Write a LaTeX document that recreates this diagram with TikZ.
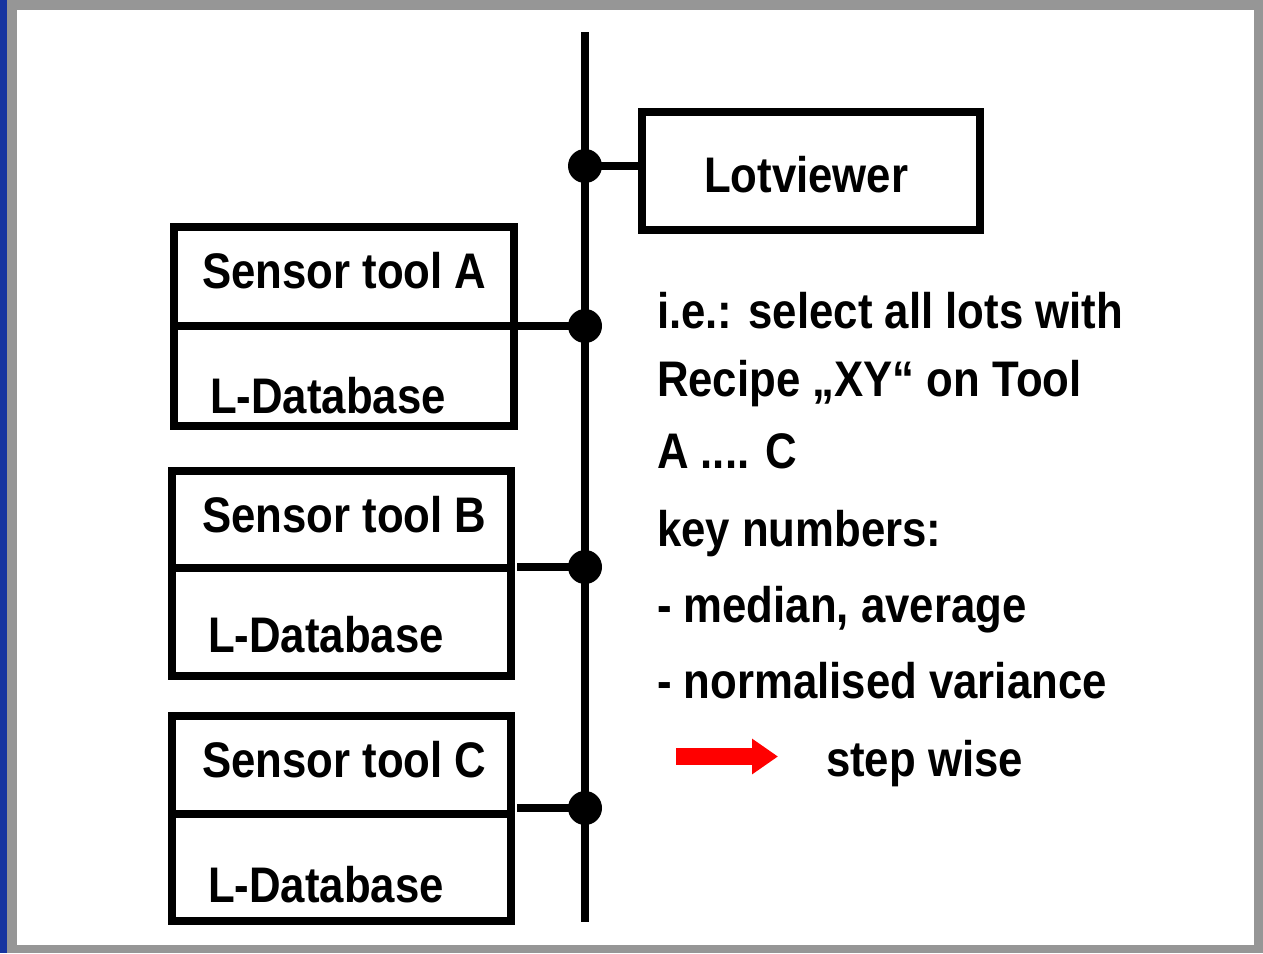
\documentclass[tikz,border=0pt]{standalone}
\usepackage{fontspec}
\setmainfont{Liberation Sans}[FakeStretch=0.875]
\usetikzlibrary{positioning, arrows.meta}

\definecolor{framegray}{RGB}{150,150,150}
\definecolor{slideblue}{RGB}{22,52,160}

\begin{document}
\begin{tikzpicture}[x=1pt, y=-1pt, line width=8pt,
    half/.style={draw, rectangle, minimum width=340pt, outer sep=0pt, inner sep=0pt},
    txt/.style={anchor=base west, inner sep=0pt, font=\fontsize{50}{60}\selectfont\bfseries},
    dot/.style={circle, fill, minimum size=34pt, inner sep=0pt}]
    \useasboundingbox (0,0) rectangle (1263,953);

    % slide frame
    \fill[framegray] (0,0) rectangle (1263,953);
    \fill[white] (17,10) rectangle (1254,945);
    \fill[slideblue] (0,0) rectangle (7,953);

    % bus line
    \coordinate (busT) at (585,32);
    \coordinate (busB) at (585,922);
    \draw (busT) -- (busB);

    % lotviewer
    \node[half, minimum width=338pt, minimum height=118pt] (LV) at (811,171) {};
    \node[txt] (LVt) at (700,192) {Lotviewer};

    % sensor tools with their databases
    \node[half, minimum height=99pt] (A1) at (344,276.5) {};
    \node[half, minimum height=100pt, below=0pt of A1] (A2) {};
    \node[half, minimum width=339pt, minimum height=97pt] (B1) at (341.5,519.5) {};
    \node[half, minimum width=339pt, minimum height=108pt, below=0pt of B1] (B2) {};
    \node[half, minimum width=339pt, minimum height=98pt] (C1) at (341.5,765) {};
    \node[half, minimum width=339pt, minimum height=107pt, below=0pt of C1] (C2) {};

    \node[txt] (A1t) at (198,288) {Sensor tool A};
    \node[txt] (A2t) at (206,413) {L-Database};
    \node[txt] (B1t) at (198,532) {Sensor tool B};
    \node[txt] (B2t) at (204,652) {L-Database};
    \node[txt] (C1t) at (198,777) {Sensor tool C};
    \node[txt] (C2t) at (204,902) {L-Database};

    % junctions on the bus
    \node[dot] (jLV) at (585,166) {};
    \node[dot] (jA) at (585,326) {};
    \node[dot] (jB) at (585,567) {};
    \node[dot] (jC) at (585,808) {};

    \draw (jLV.center) -- (jLV.center -| LV.west);
    \draw (A1.south east) -- (jA.center);
    \draw ([xshift=6pt]jB.center -| B1.east) -- (jB.center);
    \draw ([xshift=6pt]jC.center -| C1.east) -- (jC.center);

    % query text
    \node[txt] (l1) at (653,328) {i.e.: select all lots with};
    \node[txt] (l2) at (653,396) {Recipe „XY“ on Tool};
    \node[txt] (l3) at (653,468) {A .... C};
    \node[txt] (l4) at (653,546) {key numbers:};
    \node[txt] (l5) at (653,622) {- median, average};
    \node[txt] (l6) at (653,698) {- normalised variance};

    \coordinate (arrS) at (676,756.5);
    \coordinate (arrE) at (778,756.5);
    \draw[red, line width=17pt, -{Triangle[length=26pt, width=34pt]}] (arrS) -- (arrE);
    \node[txt] (l7) at (822,776) {step wise};
\end{tikzpicture}
\end{document}
